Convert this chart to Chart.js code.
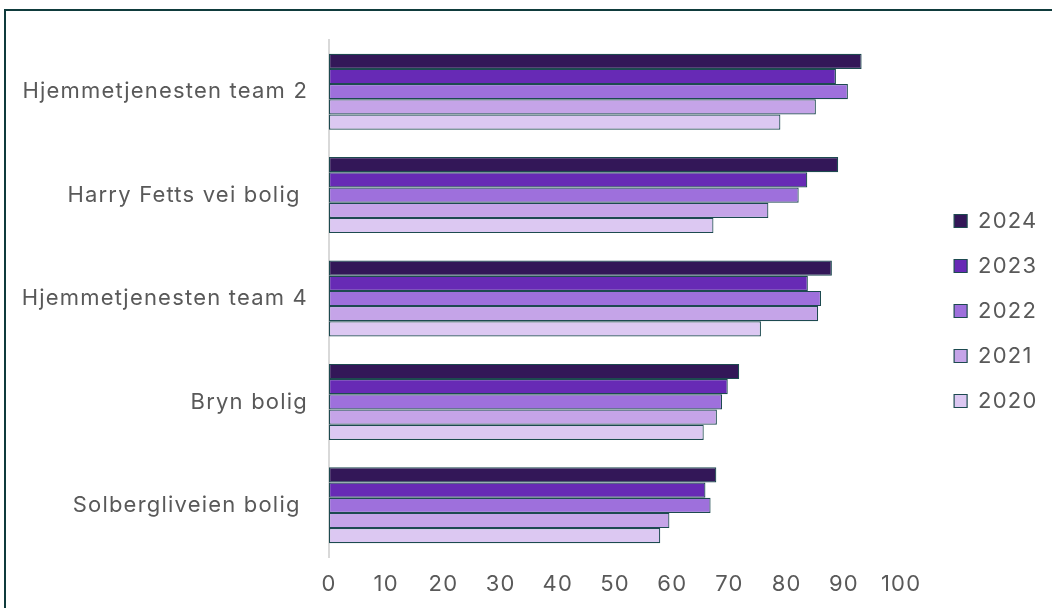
<!DOCTYPE html>
<html lang="no">
<head>
<meta charset="UTF-8">
<title>Resultat per enhet 2020–2024</title>
<style>
    body {
        margin: 0;
        background: #fff;
    }
    #frame {
        position: absolute;
        left: 4px;
        top: 9px;
        width: 1100px;
        height: 700px;
        border-top: 2px solid #0f3b3c;
        border-left: 2px solid #0f3b3c;
    }
    #wrap {
        position: absolute;
        left: 0;
        top: 0;
        width: 1052px;
        height: 608px;
    }
</style>
</head>
<body>
<div id="frame"></div>
<div id="wrap"><canvas id="chart" width="1052" height="608"></canvas></div>

<script src="https://cdn.jsdelivr.net/npm/chart.js"></script>
<script>
    // units (trailing spaces kept as in the source labels)
    const units = [
        'Hjemmetjenesten team 2',
        'Harry Fetts vei bolig ',
        'Hjemmetjenesten team 4',
        'Bryn bolig',
        'Solbergliveien bolig '
    ];
    const years = ['2024', '2023', '2022', '2021', '2020'];

    const values2024 = [93.1, 89.0, 87.9, 71.7, 67.7];
    const values2023 = [88.6, 83.6, 83.7, 69.7, 65.8];
    const values2022 = [90.7, 82.1, 86.0, 68.7, 66.7];
    const values2021 = [85.1, 76.8, 85.5, 67.8, 59.5];
    const values2020 = [78.9, 67.2, 75.5, 65.5, 57.9];

    const xTicks = [0, 10, 20, 30, 40, 50, 60, 70, 80, 90, 100];

    const seriesValues = [values2024, values2023, values2022, values2021, values2020];
    const fills = ['#331758', '#672ab5', '#9e70dc', '#c5a4e8', '#dcc8f2'];

    Chart.defaults.font.family = 'Inter';
    Chart.defaults.font.size = 22;
    Chart.defaults.color = '#595959';

    // canvas state is reset when Chart.js sizes the canvas, so re-apply spacing
    const spacing = {
        id: 'spacing',
        beforeUpdate: chart => { chart.ctx.letterSpacing = '1.2px'; },
        beforeDraw: chart => { chart.ctx.letterSpacing = '1.2px'; }
    };

    // blank axis used only to reserve space in the layout
    const spacer = (axis, position, size) => ({
        type: 'linear',
        axis: axis,
        position: position,
        display: true,
        grid: { display: false, drawTicks: false },
        border: { display: false },
        ticks: { display: false },
        afterFit: scale => {
            if (axis === 'x') scale.height = size; else scale.width = size;
        }
    });

    const ctx = document.getElementById('chart').getContext('2d');

    new Chart(ctx, {
        type: 'bar',
        data: {
            labels: units,
            datasets: years.map((year, i) => ({
                label: year,
                data: seriesValues[i],
                backgroundColor: fills[i],
                borderColor: '#1d4a50',
                borderWidth: 1.2,
                borderSkipped: false,
                categoryPercentage: 0.735,
                barPercentage: 1
            }))
        },
        options: {
            indexAxis: 'y',
            responsive: false,
            animation: false,
            layout: {
                padding: { left: 0, top: 14, right: 4.5, bottom: 0 }
            },
            plugins: {
                legend: {
                    position: 'right',
                    labels: {
                        boxWidth: 13,
                        boxHeight: 13,
                        padding: 23,
                        color: '#595959',
                        font: { size: 22 }
                    }
                },
                tooltip: { enabled: false }
            },
            scales: {
                x: {
                    min: 0,
                    max: 100,
                    grid: { display: false, drawTicks: false },
                    border: { display: false },
                    afterBuildTicks: scale => {
                        scale.ticks = xTicks.map(v => ({ value: v }));
                    },
                    ticks: { padding: 14 },
                    afterFit: scale => { scale.height = 51; }
                },
                y: {
                    grid: { display: false, drawTicks: false },
                    border: { display: true, color: '#d9d9d9', width: 2 },
                    ticks: { padding: 21 },
                    afterFit: scale => { scale.width = 329; }
                },
                gapTop: spacer('x', 'top', 26),
                gapRight: spacer('y', 'right', 30)
            }
        },
        plugins: [spacing]
    });
</script>
</body>
</html>
